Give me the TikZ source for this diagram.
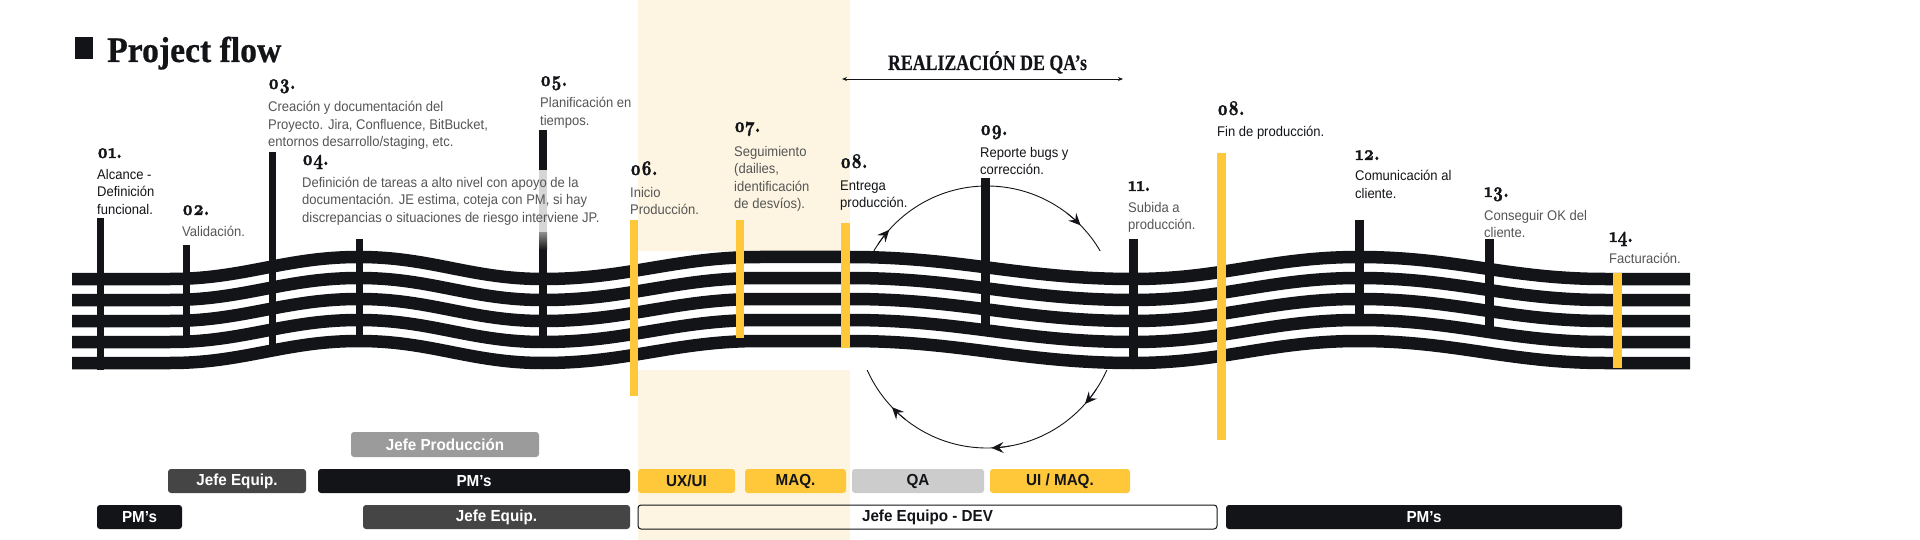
\documentclass[tikz,border=0pt]{standalone}
\usepackage{fontspec}
\setmainfont{Liberation Sans}
\newfontfamily\bodyf[FakeStretch=0.93]{Liberation Sans}
\newfontfamily\tagf[FakeStretch=0.95]{Liberation Sans}
\newfontfamily\titlef[FakeStretch=0.935,FakeBold=0.6]{Liberation Serif}
\newfontfamily\qaf[FakeStretch=0.81,FakeBold=0.4]{Liberation Serif}
\newfontfamily\numf[Numbers=OldStyle,FakeStretch=0.8,FakeBold=1.6]{lmroman10-bold.otf}
\usetikzlibrary{arrows.meta}
\definecolor{ink}{HTML}{121417}
\definecolor{gold}{HTML}{FFC83A}
\definecolor{cream}{HTML}{FDF5E2}
\definecolor{txtgray}{HTML}{555555}
\definecolor{dgray}{HTML}{454545}
\definecolor{mgray}{HTML}{9B9B9B}
\definecolor{lgray}{HTML}{CCCCCC}
\definecolor{fadegray}{HTML}{D6D6D6}
\newcommand\mybar[5]{\fill[#5] (#1-#2/2,#3) rectangle (#1+#2/2,#4);}
\begin{document}
\begin{tikzpicture}[x=1pt,y=-1pt,
  num/.style={anchor=base west,inner sep=0pt,font=\numf\fontsize{21pt}{21pt}\selectfont,text=ink},
  desc/.style={anchor=north west,inner sep=0pt,align=left,font=\bodyf\fontsize{14pt}{17.5pt}\selectfont,text=txtgray},
  descd/.style={desc,text=ink},
  tag/.style={rounded corners=3pt,minimum height=24pt,inner sep=0pt,font=\tagf\bfseries\fontsize{16pt}{16pt}\selectfont,text=white},
  wave/.style={line width=12.5pt,draw=ink,line cap=butt},
  ring/.style={draw=ink,line width=0.9pt},
  ringtip/.style={ring,-{Stealth[length=12pt,width=11pt,inset=4.5pt]}},
]
\useasboundingbox (0,0) rectangle (1920,540);
\fill[white] (0,0) rectangle (1920,540);
% cream production band
\fill[cream] (638,0) rectangle (850,540);
% QA cycle ring
\draw[ring] (987,317) circle[radius=131pt];
\foreach \a in {221.7,315.6,41.6,88,136.5}{
  \draw[ringtip] (987,317) ++(\a-8:131) arc[start angle=\a-8,end angle=\a,radius=131];
}
% white band behind the wave
\fill[white] (72,251) rectangle (1690,369.5);
% wave lines
\foreach \dy in {0,21,42,63,84}{
  \draw[wave] (72,279+\dy) -- (170,279+\dy) to[out=0,in=180] (359,257+\dy)
    to[out=0,in=180] (543,279+\dy) to[out=0,in=180] (760,257+\dy) -- (850,257+\dy)
    to[out=0,in=180] (1133,279+\dy) to[out=0,in=180] (1359,257+\dy)
    to[out=0,in=180] (1605,279+\dy) -- (1690,279+\dy);
}
% bars
\mybar{100}{7}{218}{370}{ink}
\mybar{186}{7}{245}{340}{ink}
\mybar{272}{7}{152}{345}{ink}
\mybar{359}{7}{239}{337}{ink}
\mybar{543}{8}{130}{348}{ink}
\fill[fadegray] (539,170) rectangle (547,233);
\shade[top color=fadegray!60!ink,bottom color=ink] (539,233) rectangle (547,250);
\mybar{634}{8}{220}{396}{gold}
\mybar{740}{8}{220}{338}{gold}
\mybar{845}{9}{223}{348}{gold}
\mybar{985}{9}{178}{326}{ink}
\mybar{1133}{9}{239}{367}{ink}
\mybar{1221}{9}{153}{440}{gold}
\mybar{1359}{9}{220}{316}{ink}
\mybar{1489}{9}{239}{331}{ink}
\mybar{1617}{9}{273}{368}{gold}
% title
\node[fill=ink,minimum width=18pt,minimum height=22pt,inner sep=0pt] (sq) at (84,48) {};
\node[anchor=base west,inner sep=0pt,font=\titlef\bfseries\fontsize{36pt}{36pt}\selectfont,text=ink] (title) at (107,62) {Project flow};
% QA header
\node[anchor=base,inner sep=0pt,font=\qaf\bfseries\fontsize{22pt}{22pt}\selectfont,text=ink] (qah) at (987.5,70) {REALIZACIÓN DE QA’s};
\coordinate (qaL) at (842,79);
\coordinate (qaR) at (1123,79);
\draw[line width=0.9pt,ink,{Stealth[length=5pt,width=4pt]}-{Stealth[length=5pt,width=4pt]}] (qaL) -- (qaR);
% numbers
\node[num] (n01) at (97,158) {01.};
\node[num] (n02) at (182,215) {02.};
\node[num] (n03) at (268,89) {03.};
\node[num] (n04) at (302,165) {04.};
\node[num] (n05) at (540,86) {05.};
\node[num] (n06) at (630,175) {06.};
\node[num] (n07) at (734,132) {07.};
\node[num] (n08) at (840,168) {08.};
\node[num] (n09) at (980,135) {09.};
\node[num] (n11) at (1128,191) {11.};
\node[num] (n08b) at (1217,115) {08.};
\node[num] (n12) at (1355,160) {12.};
\node[num] (n13) at (1484,197) {13.};
\node[num] (n14) at (1609,242) {14.};
% descriptions
\node[descd] (t01) at (97,166.75) {\strut Alcance -\\Definición\\funcional.};
\node[desc] (t02) at (182,223.75) {\strut Validación.};
\node[desc] (t03) at (268,99.25) {\strut Creación y documentación del\\Proyecto. Jira, Confluence, BitBucket,\\entornos desarrollo/staging, etc.};
\node[desc] (t04) at (302,174.75) {\strut Definición de tareas a alto nivel con apoyo de la\\documentación. JE estima, coteja con PM, si hay\\discrepancias o situaciones de riesgo interviene JP.};
\node[desc] (t05) at (540,95.25) {\strut Planificación en\\tiempos.};
\node[desc] (t06) at (630,184.75) {\strut Inicio\\Producción.};
\node[desc] (t07) at (734,143.75) {\strut Seguimiento\\(dailies,\\identificación\\de desvíos).};
\node[descd] (t08) at (840,177.75) {\strut Entrega\\producción.};
\node[descd] (t09) at (980,144.75) {\strut Reporte bugs y\\corrección.};
\node[desc] (t11) at (1128,199.75) {\strut Subida a\\producción.};
\node[descd] (t08b) at (1217,123.75) {\strut Fin de producción.};
\node[descd] (t12) at (1355,168.25) {\strut Comunicación al\\cliente.};
\node[desc] (t13) at (1484,207.75) {\strut Conseguir OK del\\cliente.};
\node[desc] (t14) at (1609,250.75) {\strut Facturación.};
% role tags
\node[tag,fill=mgray,minimum width=188pt,minimum height=25pt] (jp) at (445,444.5) {Jefe Producción};
\node[tag,fill=dgray,minimum width=138pt] (je1) at (237,481) {Jefe Equip.};
\node[tag,fill=ink,minimum width=312pt] (pm1) at (474,481) {PM’s};
\node[tag,fill=gold,text=ink,minimum width=97pt] (ux) at (686.5,481) {UX/UI};
\node[tag,fill=gold,text=ink,minimum width=101pt] (maq) at (795.5,481) {MAQ.};
\node[tag,fill=lgray,text=ink,minimum width=132pt] (qa) at (918,481) {QA};
\node[tag,fill=gold,text=ink,minimum width=140pt] (uimaq) at (1060,481) {UI / MAQ.};
\node[tag,fill=ink,minimum width=85pt] (pm0) at (139.5,517) {PM’s};
\node[tag,fill=dgray,minimum width=267pt] (je2) at (496.5,517) {Jefe Equip.};
\node[tag,draw=ink,line width=1pt,text=ink,minimum width=579pt] (dev) at (927.5,517) {Jefe Equipo - DEV};
\node[tag,fill=ink,minimum width=396pt] (pm2) at (1424,517) {PM’s};
\end{tikzpicture}
\end{document}
